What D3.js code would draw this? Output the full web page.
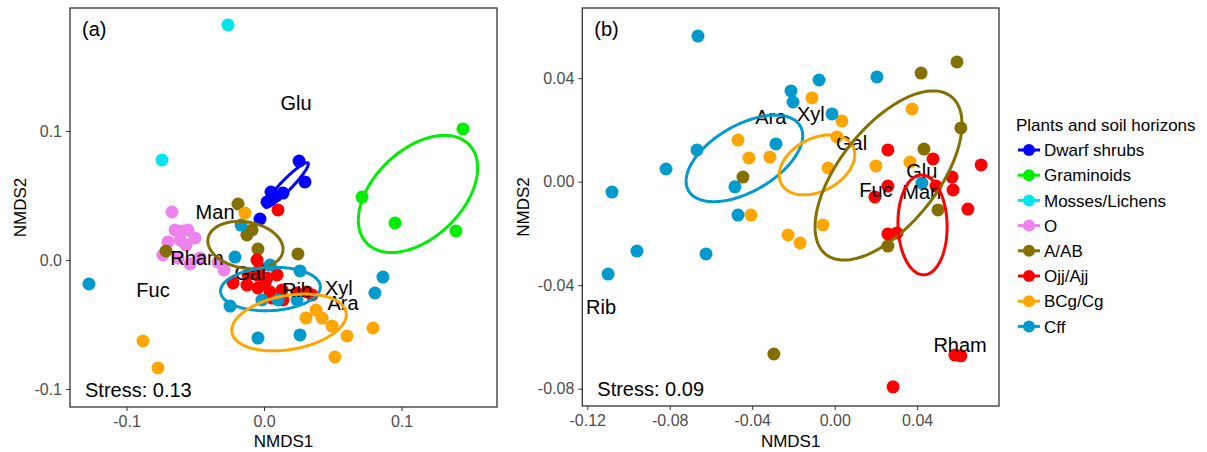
<!DOCTYPE html>
<html><head><meta charset="utf-8">
<script src="https://cdn.jsdelivr.net/npm/d3@7"></script>
<style>
body{margin:0;background:#fff;}
text{font-family:"Liberation Sans",Arial,sans-serif;}
</style></head>
<body><svg id="c" width="1207" height="452"></svg>
<script>
// ---------- data ----------
const groups = ["Dwarf shrubs","Graminoids","Mosses/Lichens","O","A/AB","Ojj/Ajj","BCg/Cg","Cff"];
const groupColors = ["#0000FF","#00EE00","#00E5EE","#EE82EE","#837000","#FF0000","#FFA500","#009ACD"];
const legendTitle = "Plants and soil horizons";

// panel (a) points [NMDS1, NMDS2]
const aDwarf = [[0.0255,0.0767],[0.0298,0.0605],[0.0138,0.0519],[0.0051,0.0527],[0.0022,0.0450],[-0.0029,0.0318],[0.0087,0.0496]];
const aGram = [[0.1447,0.1016],[0.0713,0.0488],[0.0953,0.0287],[0.1396,0.0225]];
const aMoss = [[-0.0262,0.1822],[-0.0742,0.0775]];
const aO = [[-0.0669,0.0372],[-0.0647,0.0233],[-0.0596,0.0225],[-0.0553,0.0233],[-0.0502,0.0171],[-0.0611,0.0155],[-0.0698,0.0140],[-0.0567,0.0116],[-0.0735,0.0039],[-0.0625,0.0016],[-0.0538,-0.0031],[-0.0465,0.0016],[-0.0335,-0.0016],[-0.0291,-0.0078]];
const aAAB = [[-0.0189,0.0434],[-0.0124,0.0194],[-0.0087,0.0233],[-0.0044,0.0085],[0.0247,0.0047],[-0.0713,0.0070]];
const aOjj = [[0.0102,0.0388],[-0.0051,0.0],[-0.0225,-0.0178],[-0.0124,-0.0194],[-0.0051,-0.0116],[0.0022,-0.0140],[0.0095,-0.0116],[-0.0044,-0.0217],[0.0044,-0.0248],[0.0131,-0.0233],[0.0058,-0.0295],[0.0138,-0.0310],[0.0240,-0.0256],[0.0313,-0.0248],[0.0349,-0.0271],[-0.0029,-0.0062],[-0.0116,-0.0116],[0.0007,-0.0178]];
const aBCg = [[-0.0138,0.0364],[-0.0880,-0.0628],[-0.0771,-0.0837],[0.0305,-0.0450],[0.0378,-0.0388],[0.0422,-0.0450],[0.0495,-0.0512],[0.0604,-0.0589],[0.0516,-0.0752],[0.0793,-0.0527]];
const aCff = [[-0.0167,0.0271],[-0.0211,0.0023],[0.0044,-0.0039],[0.0262,-0.0085],[-0.0247,-0.0357],[-0.0015,-0.0310],[0.0102,-0.0310],[0.0240,-0.0310],[-0.0044,-0.0605],[0.0262,-0.0581],[0.0807,-0.0256],[0.0865,-0.0132],[-0.1273,-0.0186]];

// panel (a) ellipses: group index, centre, semi-axis vectors (data units)
const aEllipses = [
  {g:0, c:[0.0164,0.0581], a:[0.0156,0.0171], b:[-0.0028,0.0029]},
  {g:1, c:[0.1120,0.0512], a:[0.0372,0.0382], b:[-0.0223,0.0245]},
  {g:4, c:[-0.0135,0.0116], a:[0.0272,-0.0051], b:[0.0029,0.0176]},
  {g:7, c:[0.0047,-0.0225], a:[0.0363,0.0020], b:[-0.0008,0.0167]},
  {g:6, c:[0.0182,-0.0484], a:[0.0415,0.0078], b:[-0.0034,0.0206]}
];
const aSugarNames = ["Glu","Man","Rham","Fuc","Gal","Rib","Xyl","Ara"];
const aSugarPos = [[0.0233,0.1217],[-0.0356,0.0374],[-0.0487,0.0016],[-0.0807,-0.0233],[-0.0102,-0.0101],[0.0240,-0.0233],[0.0545,-0.0217],[0.0575,-0.0333]];

// panel (b) points
const bCff = [[-0.0663,0.0563],[-0.0212,0.0351],[-0.0202,0.0308],[-0.0076,0.0393],[0.0205,0.0405],[-0.0013,0.0262],[-0.0668,0.0123],[-0.0285,0.0146],[-0.0818,0.0049],[-0.1080,-0.0040],[-0.0484,-0.0020],[-0.0469,-0.0129],[0.0423,-0.0005],[-0.0959,-0.0268],[-0.0624,-0.0279],[-0.1099,-0.0357]];
const bBCg = [[-0.0110,0.0324],[0.0035,0.0235],[0.0011,0.0173],[-0.0469,0.0161],[-0.0416,0.0092],[-0.0314,0.0095],[-0.0032,0.0053],[0.0200,0.0061],[0.0375,0.0281],[0.0365,0.0076],[-0.0406,-0.0129],[-0.0057,-0.0167],[-0.0226,-0.0206],[-0.0168,-0.0237]];
const bAAB = [[0.0419,0.0420],[0.0593,0.0463],[0.0612,0.0208],[0.0433,0.0126],[0.0501,-0.0109],[-0.0445,0.0018],[0.0258,-0.0249],[-0.0295,-0.0666]];
const bOjj = [[0.0258,0.0123],[0.0477,0.0088],[0.0710,0.0065],[0.0569,0.0018],[0.0574,-0.0032],[0.0646,-0.0106],[0.0195,-0.0059],[0.0258,-0.0017],[0.0491,-0.0017],[0.0258,-0.0202],[0.0302,-0.0198],[0.0583,-0.0670],[0.0612,-0.0673],[0.0283,-0.0793]];
const bEllipses = [
  {g:7, c:[-0.0438,0.0090], a:[0.0271,0.0125], b:[-0.0081,0.0111]},
  {g:6, c:[-0.0086,0.0065], a:[0.0173,0.0073], b:[-0.0060,0.0090]},
  {g:4, c:[0.0261,0.0024], a:[0.0304,0.0305], b:[-0.0186,0.0118]},
  {g:5, c:[0.0426,-0.0167], a:[-0.0007,0.0193], b:[0.0119,0.0003]}
];
const bSugarNames = ["Ara","Xyl","Gal","Glu","Fuc","Man","Rib","Rham"];
const bSugarPos = [[-0.0310,0.0251],[-0.0116,0.0264],[0.0082,0.0151],[0.0422,0.0043],[0.0200,-0.0032],[0.0422,-0.0039],[-0.1133,-0.0484],[0.0608,-0.0630]];

// axis limits and ticks
const aXDomain = [-0.14109, 0.16945], aYDomain = [-0.11395, 0.19535];
const bXDomain = [-0.12241, 0.07968], bYDomain = [-0.08670, 0.06714];
const aXTicks = [-0.1, 0, 0.1], aXTickLabels = ["-0.1","0.0","0.1"];
const aYTicks = [-0.1, 0, 0.1], aYTickLabels = ["-0.1","0.0","0.1"];
const bXTicks = [-0.12,-0.08,-0.04,0,0.04], bXTickLabels = ["-0.12","-0.08","-0.04","0.00","0.04"];
const bYTicks = [-0.08,-0.04,0,0.04], bYTickLabels = ["-0.08","-0.04","0.00","0.04"];
const aStress = "Stress: 0.13", bStress = "Stress: 0.09";

// ---------- drawing ----------
const svg = d3.select("#c");
svg.append("rect").attr("width",1207).attr("height",452).attr("fill","#fff");

function panel(cfg){
  const x = d3.scaleLinear().domain(cfg.xd).range([cfg.l, cfg.r]);
  const y = d3.scaleLinear().domain(cfg.yd).range([cfg.b, cfg.t]);
  const g = svg.append("g");
  // axes
  const xa = g.append("g").attr("transform",`translate(0,${cfg.b})`)
    .call(d3.axisBottom(x).tickValues(cfg.xt).tickFormat((d,i)=>cfg.xtl[i]).tickSize(4).tickPadding(5));
  const ya = g.append("g").attr("transform",`translate(${cfg.l},0)`)
    .call(d3.axisLeft(y).tickValues(cfg.yt).tickFormat((d,i)=>cfg.ytl[i]).tickSize(4).tickPadding(4));
  [xa,ya].forEach(a=>{
    a.select(".domain").remove();
    a.selectAll("line").attr("stroke","#333").attr("stroke-width",1);
    a.selectAll("text").attr("fill","#4D4D4D").style("font-size","16px").style("font-family","Liberation Sans, Arial, sans-serif");
  });
  // points
  const clipId = "clip"+cfg.id;
  svg.append("clipPath").attr("id",clipId).append("rect")
    .attr("x",cfg.l).attr("y",cfg.t).attr("width",cfg.r-cfg.l).attr("height",cfg.b-cfg.t);
  const pg = g.append("g").attr("clip-path",`url(#${clipId})`);
  cfg.pts.forEach(([gi, arr])=>{
    pg.selectAll(null).data(arr).enter().append("circle")
      .attr("cx",d=>x(d[0])).attr("cy",d=>y(d[1])).attr("r",6.5)
      .attr("fill",groupColors[gi]);
  });
  // sugar labels
  pg.selectAll(null).data(cfg.sn).enter().append("text")
    .attr("x",(d,i)=>x(cfg.sp[i][0])).attr("y",(d,i)=>y(cfg.sp[i][1]))
    .attr("dy","0.36em").attr("text-anchor","middle")
    .style("font-size","20px").attr("fill","#000").text(d=>d);
  // ellipses
  const line = d3.line().x(p=>x(p[0])).y(p=>y(p[1])).curve(d3.curveLinearClosed);
  cfg.ell.forEach(e=>{
    const ptsE = d3.range(0,120).map(k=>{
      const t = k/120*2*Math.PI;
      return [e.c[0]+e.a[0]*Math.cos(t)+e.b[0]*Math.sin(t), e.c[1]+e.a[1]*Math.cos(t)+e.b[1]*Math.sin(t)];
    });
    pg.append("path").attr("d",line(ptsE)).attr("fill","none")
      .attr("stroke",groupColors[e.g]).attr("stroke-width",3);
  });
  // frame
  g.append("rect").attr("x",cfg.l).attr("y",cfg.t).attr("width",cfg.r-cfg.l).attr("height",cfg.b-cfg.t)
    .attr("fill","none").attr("stroke","#333").attr("stroke-width",1.3);
  // panel tag and stress
  g.append("text").attr("x",cfg.l+12).attr("y",cfg.t+28).style("font-size","20px").text(cfg.tag);
  g.append("text").attr("x",cfg.l+15).attr("y",cfg.b-10).style("font-size","20px").text(cfg.stress);
  // axis titles
  g.append("text").attr("x",(cfg.l+cfg.r)/2).attr("y",447).attr("text-anchor","middle")
    .style("font-size","17px").text("NMDS1");
  g.append("text").attr("transform",`translate(${cfg.ytx},${(cfg.t+cfg.b)/2}) rotate(-90)`)
    .attr("text-anchor","middle").style("font-size","17px").text("NMDS2");
}

panel({id:"a", l:70, r:497, t:8, b:407, xd:aXDomain, yd:aYDomain,
  xt:aXTicks, xtl:aXTickLabels, yt:aYTicks, ytl:aYTickLabels, ytx:26,
  pts:[[3,aO],[4,aAAB],[5,aOjj],[6,aBCg],[7,aCff],[0,aDwarf],[1,aGram],[2,aMoss]],
  ell:aEllipses, sn:aSugarNames, sp:aSugarPos, tag:"(a)", stress:aStress});

panel({id:"b", l:582.3, r:999, t:8, b:406, xd:bXDomain, yd:bYDomain,
  xt:bXTicks, xtl:bXTickLabels, yt:bYTicks, ytl:bYTickLabels, ytx:529,
  pts:[[4,bAAB],[6,bBCg],[7,bCff],[5,bOjj]],
  ell:bEllipses, sn:bSugarNames, sp:bSugarPos, tag:"(b)", stress:bStress});

// legend
const lg = svg.append("g");
lg.append("text").attr("x",1016).attr("y",131).style("font-size","17px").text(legendTitle);
groups.forEach((name,i)=>{
  const cy = 150 + i*25.2;
  lg.append("line").attr("x1",1018).attr("x2",1040).attr("y1",cy).attr("y2",cy)
    .attr("stroke",groupColors[i]).attr("stroke-width",3);
  lg.append("circle").attr("cx",1029).attr("cy",cy).attr("r",6).attr("fill",groupColors[i]);
  lg.append("text").attr("x",1044).attr("y",cy).attr("dy","0.36em").style("font-size","17px").text(name);
});
</script></body></html>
